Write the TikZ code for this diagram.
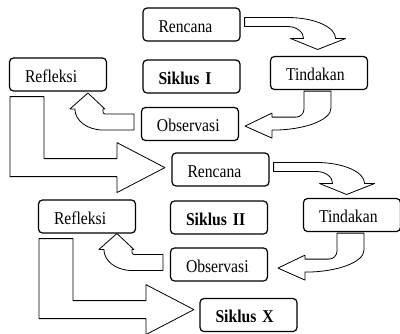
\documentclass[tikz,border=0pt]{standalone}
\usepackage{fontspec}
\setmainfont{Liberation Serif}[FakeStretch=0.87]
\usetikzlibrary{calc}
\tikzset{
	box/.style={draw, line width=1.2pt, rounded corners=4pt, fill=white, text width=66pt,
		inner xsep=15.5pt, minimum height=33pt, text height=15pt, text depth=0pt, align=left},
	blk/.style={draw, line width=0.8pt, fill=white, line join=round},
	% curved arrow going right and down (Rencana -> Tindakan)
	arr down/.pic={\path[blk] (4,-7) -- (47,-7) .. controls (73.5,-7) and (95,2.4) .. (95,14)
		-- (105,14) -- (77,25) -- (50,14) -- (63,14) .. controls (63,7.4) and (55.8,2) .. (47,2)
		-- (4,2) -- cycle;},
	% curved arrow going down and left (Tindakan -> Observasi)
	arr back/.pic={\path[blk] (-15,1) -- (12,1) -- (12,18) .. controls (12,30) and (-14.4,40) .. (-47,40)
		-- (-47,48) -- (-74,36) -- (-47,23) -- (-47,27) -- (-23,27) .. controls (-18.6,27) and (-15,23.4) .. (-15,19)
		-- cycle;},
	% curved arrow going left and up (Observasi -> Refleksi)
	arr up/.pic={\path[blk] (-7,-10) -- (-36,-10) .. controls (-37.5,-10) and (-38,-11.5) .. (-38,-13)
		-- (-38,-15) -- (-36,-15) -- (-53,-31) -- (-71,-15) -- (-66,-15) .. controls (-66,-3.4) and (-53.5,6) .. (-38,6)
		-- (-7,6) -- cycle;},
	% big L arrow to the next cycle
	arr next/.pic={\path[blk] (1,5) -- (35,5) -- (35,67) -- (108,67) -- (108,51) -- (156,76) -- (108,101)
		-- (108,85) -- (1,85) -- cycle;}
}

\begin{document}
\begin{tikzpicture}[x=1pt,y=-1pt,font=\fontsize{18}{20}\selectfont]
	\useasboundingbox (0,0) rectangle (400,333);
	
	% siklus I
	\node[box] (ren1) at (191.5,24.5) {Rencana};
	\node[box] (ref1) at (58,74.5) {Refleksi};
	\node[box] (sik1) at (191.5,76.5) {\textbf{Siklus I}};
	\node[box] (tin1) at (319,73) {Tindakan};
	\node[box] (obs1) at (190,124) {Observasi};
	
	% siklus II
	\node[box] (ren2) at (220.5,169.5) {Rencana};
	\node[box] (ref2) at (87,216.5) {Refleksi};
	\node[box] (sik2) at (219,217.5) {\textbf{Siklus II}};
	\node[box] (tin2) at (352,215) {Tindakan};
	\node[box] (obs2) at (219,264.5) {Observasi};
	
	\node[box] (sikx) at (248.5,315) {\textbf{Siklus X}};
	
	\pic at (ren1.east) {arr down};
	\pic at (tin1.south) {arr back};
	\pic at (obs1.west) {arr up};
	\pic at (ref1.south west) {arr next};
	
	\pic at (ren2.east) {arr down};
	\pic at (tin2.south) {arr back};
	\pic at (obs2.west) {arr up};
	\pic at (ref2.south west) {arr next};
\end{tikzpicture}
\end{document}
